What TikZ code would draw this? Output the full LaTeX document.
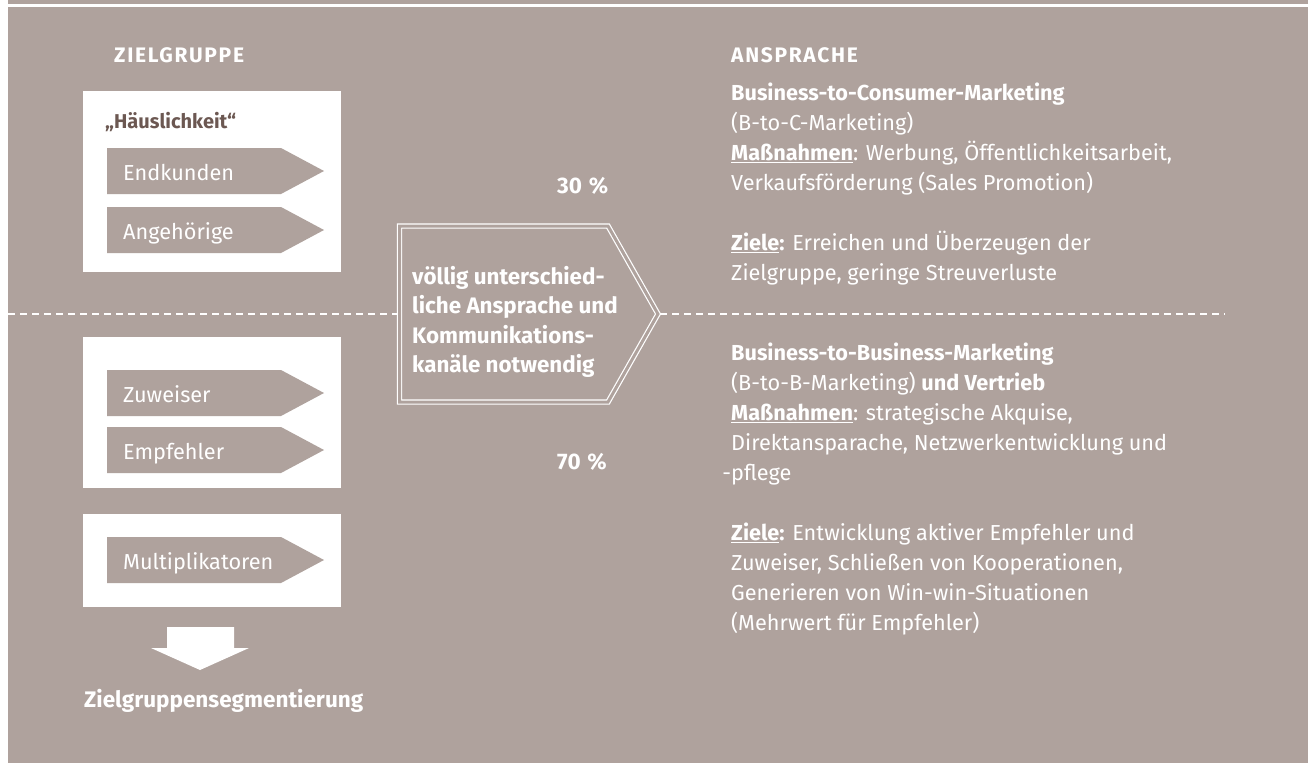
\documentclass[tikz,border=0pt]{standalone}
\usepackage{fontspec}
\setmainfont{Fira Sans}
\newfontfamily\headfont{Fira Sans}[LetterSpace=8]
\definecolor{taupe}{RGB}{175,162,157}
\definecolor{darkbrown}{RGB}{108,88,82}
\tikzset{
  txt/.style={text=white, inner sep=0pt, font=\fontsize{21.7}{30}\selectfont},
  tag/.style={txt, anchor=base west},
  boldtag/.style={tag, font=\fontsize{22.5}{30}\selectfont\bfseries},
  heading/.style={tag, font=\fontsize{21}{24}\selectfont\headfont\bfseries},
  textblock/.style={txt, anchor=north west, align=left},
  whitebox/.style={fill=white},
  dashline/.style={white, line width=2pt, dash pattern=on 7pt off 5pt}
}
\begin{document}
\begin{tikzpicture}[x=1pt,y=-1pt]
  \useasboundingbox (0,0) rectangle (1312,763);
  \fill[taupe] (8,0) rectangle (1308,763);
  \draw[white, line width=2.5pt] (8,5.5) -- (1308,5.5);

  \node[heading] (zielgruppe) at (114,62) {ZIELGRUPPE};
  \node[heading] (ansprache) at (731,62) {ANSPRACHE};

  % boxes on the left
  \fill[whitebox] (83,91) rectangle (341,272);
  \fill[whitebox] (83,337) rectangle (341,488);
  \fill[whitebox] (83,514) rectangle (341,607);
  \node[boldtag, font=\fontsize{20}{30}\selectfont\bfseries, text=darkbrown] (haeuslich)
    at (105,128.5) {„Häuslichkeit“};

  \foreach \name/\y/\txt in {endkunden/171/Endkunden, angehoerige/230/Angehörige,
      zuweiser/393/Zuweiser, empfehler/450/Empfehler, multi/560/Multiplikatoren}{
    \fill[taupe] (107,\y-23) -- (281,\y-23) -- (324,\y) -- (281,\y+23) -- (107,\y+23) -- cycle;
    \node[tag] (\name) at (123,\y+9) {\txt};
  }

  \fill[white] (167,627) -- (234,627) -- (234,648) -- (249,648) -- (200,670)
    -- (151,648) -- (167,648) -- cycle;
  \node[boldtag] (segment) at (84,707) {Zielgruppensegmentierung};

  % middle
  \coordinate (lstart) at (8,314);
  \coordinate (pleft) at (397,314);
  \coordinate (ptip) at (660,314);
  \coordinate (rend) at (1225,314);
  \draw[white, line width=1.2pt, double=taupe, double distance=3pt]
    (399.5,226) -- (608,226) -- (658,314) -- (608,402) -- (399.5,402) -- cycle;
  \draw[dashline] (lstart) -- (pleft);
  \draw[dashline] (ptip) -- (rend);
  \node[textblock, font=\fontsize{22.4}{29.5}\selectfont\bfseries] (mitte) at (412,263.4)
    {\strut völlig unterschied-\\liche Ansprache und\\Kommunikations-\\kanäle notwendig};

  \node[boldtag] (dreissig) at (557,193) {30\hspace{0.3em}\%};
  \node[boldtag] (siebzig) at (557,469) {70\hspace{0.3em}\%};

  % right column
  \node[textblock] (bc) at (731,79.7) {\strut\textbf{Business-to-Consumer-Marketing}\\
    (B-to-C-Marketing)\\
    \textbf{\underline{Maßnahmen}}: Werbung, Öffentlichkeitsarbeit,\\
    Verkaufsförderung (Sales Promotion)\\[30pt]
    \textbf{\underline{Ziele}:} Erreichen und Überzeugen der\\
    Zielgruppe, geringe Streuverluste};
  \node[textblock] (bb) at (731,339.7) {\strut\textbf{Business-to-Business-Marketing}\\
    (B-to-B-Marketing) \textbf{und Vertrieb}\\
    \textbf{\underline{Maßnahmen}}: strategische Akquise,\\
    Direktansparache, Netzwerkentwicklung und\\
    \llap{-}pflege\\[30pt]
    \textbf{\underline{Ziele}:} Entwicklung aktiver Empfehler und\\
    Zuweiser, Schließen von Kooperationen,\\
    Generieren von Win-win-Situationen\\
    (Mehrwert für Empfehler)};
\end{tikzpicture}
\end{document}
